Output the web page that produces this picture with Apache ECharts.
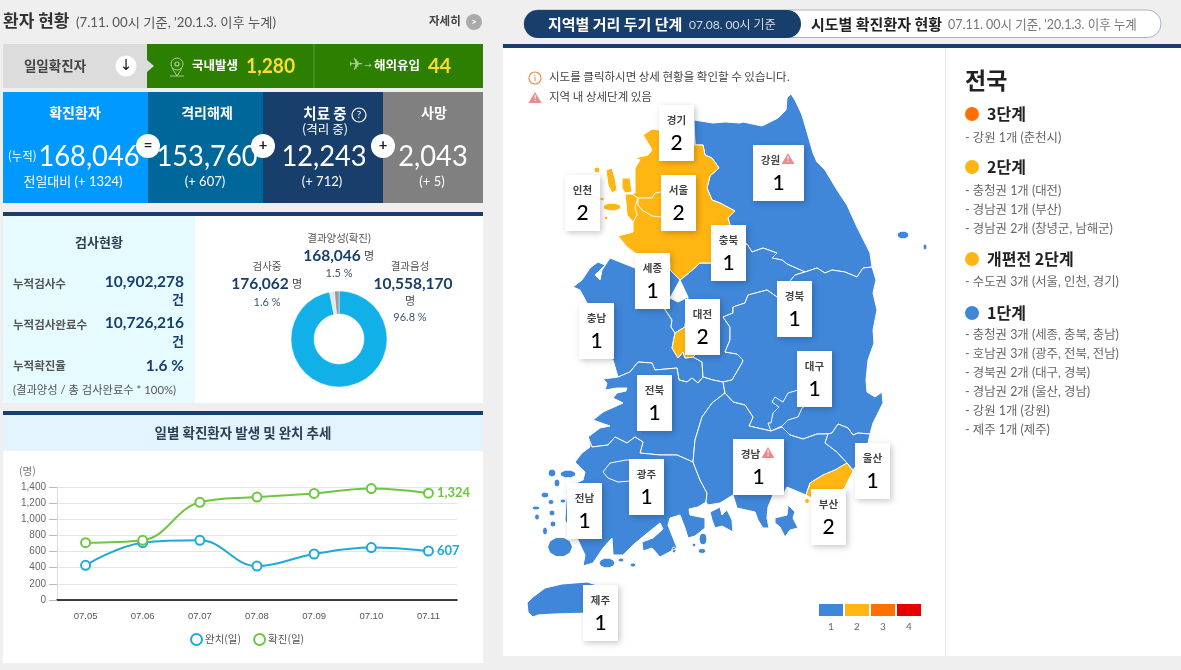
<!DOCTYPE html>
<html lang="ko">
<head>
<meta charset="utf-8">
<title>코로나바이러스감염증 현황</title>
<style>html,body{margin:0;padding:0;background:#efefef}#chart{width:1181px;height:670px}</style>
<script src="https://cdn.jsdelivr.net/npm/echarts@6/dist/echarts.min.js"></script>
</head>
<body>
<div id="chart"></div>
<script>
// 일별 추세
const trendDays = ['07.05', '07.06', '07.07', '07.08', '07.09', '07.10', '07.11'];
const recovered = [430, 710, 740, 420, 570, 650, 607];
const confirmed = [710, 740, 1210, 1275, 1320, 1380, 1324];

// 검사현황
const testLabels = ['결과음성', '검사중', '결과양성(확진)'];
const testValues = [10558170, 176062, 168046];
const testShares = ['96.8 %', '1.6 %', '1.5 %'];

// 시도별 거리 두기 단계
const regionNames = ['강원', '충남', '세종', '충북', '대전', '전북', '전남', '광주', '경북', '대구', '경남', '울산', '부산', '경기', '인천', '서울', '제주'];
const regionLevels = [1, 1, 1, 1, 2, 1, 1, 1, 1, 1, 1, 1, 2, 2, 2, 2, 1];
const levelTicks = [1, 2, 3, 4];
const levelColors = ['#4087d9', '#ffb612', '#ff7000', '#e60000'];

// 지도 외곽선 (map units)
const outlines = {
  강원: [[[694,120],[713,123],[725,122],[740,123],[743,122],[762,126],[778,118],[786,110],[787,98],[791,94],[795,100],[802,115],[807,132],[813,153],[817,162],[825,170],[837,190],[847,205],[857,227],[870,253],[872,267],[863,268],[857,277],[845,272],[832,270],[825,273],[817,268],[805,272],[787,264],[782,260],[772,258],[777,253],[763,248],[752,252],[747,244],[736,240],[730,225],[728,218],[735,211],[720,203],[712,200],[707,188],[710,176],[719,168],[712,158],[705,155],[703,145],[695,145]]],
  충남: [[[573,287],[582,280],[590,268],[598,262],[605,265],[595,275],[600,280],[602,270],[610,258],[635,268],[670,270],[680,280],[670,298],[664,308],[672,320],[671,327],[675,333],[672,348],[678,358],[683,352],[685,358],[693,357],[702,362],[703,377],[698,383],[692,378],[687,382],[679,380],[677,368],[655,370],[652,363],[638,362],[630,372],[618,377],[613,360],[600,355],[590,330],[587,303],[580,290]]],
  세종: [[[664,308],[670,298],[678,302],[688,297],[685,327],[675,333],[671,327],[672,320]]],
  충북: [[[680,280],[690,272],[700,263],[711,263],[730,255],[740,245],[747,244],[752,252],[763,248],[777,253],[772,258],[782,260],[787,264],[805,272],[795,275],[790,281],[777,297],[767,290],[748,295],[745,303],[733,307],[733,313],[723,317],[730,327],[730,340],[725,352],[737,354],[743,360],[742,363],[732,380],[723,382],[713,380],[703,377],[702,362],[693,357],[700,350],[700,330],[685,327],[688,297]]],
  대전: [[[685,327],[675,333],[672,348],[678,358],[683,352],[685,358],[693,357],[700,350],[700,330]]],
  전북: [[[618,377],[630,372],[638,362],[652,363],[655,370],[677,368],[679,380],[687,382],[692,378],[698,383],[703,377],[713,380],[723,382],[725,393],[712,403],[702,417],[695,440],[693,462],[677,455],[660,455],[640,453],[643,442],[635,437],[627,443],[615,437],[608,445],[592,447],[588,437],[600,428],[610,426],[593,420],[603,412],[623,403],[613,398],[617,393],[626,391],[627,388],[617,388],[605,390],[607,383],[603,379]]],
  전남: [[[588,437],[592,447],[608,445],[615,437],[627,443],[635,437],[643,442],[640,453],[660,455],[677,455],[693,462],[700,480],[707,493],[706,502],[698,507],[689,509],[690,515],[705,518],[705,528],[695,536],[688,538],[685,528],[680,515],[670,518],[668,525],[677,548],[660,557],[652,548],[643,551],[642,542],[653,538],[663,529],[660,523],[645,535],[633,545],[623,555],[613,555],[612,538],[603,548],[593,563],[583,566],[585,555],[578,540],[568,527],[565,520],[567,487],[583,480],[585,472],[575,462],[582,453],[590,447]]],
  광주: [[[603,472],[610,463],[626,460],[650,460],[655,480],[630,481],[618,482],[608,478]]],
  경북: [[[872,267],[876,280],[873,293],[877,310],[873,330],[874,343],[868,360],[866,380],[867,392],[875,397],[882,392],[883,403],[873,423],[870,434],[858,433],[853,435],[848,428],[838,424],[832,433],[828,434],[817,434],[803,439],[790,435],[782,427],[771,431],[749,426],[753,417],[745,405],[733,402],[725,393],[723,382],[732,380],[742,363],[743,360],[737,354],[725,352],[730,340],[730,327],[723,317],[733,313],[733,307],[745,303],[748,295],[767,290],[777,297],[790,281],[795,275],[805,272],[817,268],[825,273],[832,270],[845,272],[857,277],[863,268]]],
  대구: [[[798,390],[788,393],[783,402],[775,397],[772,402],[779,407],[773,413],[771,423],[768,423],[771,431],[782,426],[788,420],[798,417],[802,408],[815,400]]],
  경남: [[[725,393],[733,402],[745,405],[753,417],[749,426],[771,431],[782,427],[790,435],[803,439],[817,434],[828,434],[825,443],[837,452],[847,463],[835,470],[823,475],[810,483],[806,495],[787,487],[784,493],[773,495],[768,507],[767,518],[769,528],[763,528],[758,520],[755,512],[737,508],[733,495],[720,503],[708,505],[706,502],[707,493],[700,480],[693,462],[695,440],[702,417],[712,403]],
       [[775,518],[787,515],[788,505],[795,512],[793,518],[798,528],[790,530],[785,537],[780,527],[775,523]],
       [[710,512],[720,507],[722,515],[727,510],[732,520],[733,532],[722,526],[715,528],[712,520]]],
  울산: [[[870,434],[868,443],[860,460],[853,470],[847,463],[837,452],[825,443],[828,434],[832,433],[838,424],[848,428],[853,435],[858,433]]],
  부산: [[[847,463],[853,471],[845,487],[835,497],[815,500],[806,495],[810,483],[823,475],[835,470]]],
  경기: [[[643,135],[652,129],[659,130],[694,130],[695,145],[703,145],[705,155],[712,158],[719,168],[710,176],[707,188],[712,200],[720,203],[735,211],[728,218],[730,225],[736,240],[747,244],[740,245],[730,255],[711,263],[700,263],[690,272],[680,280],[670,270],[670,263],[635,253],[627,247],[618,236],[633,232],[633,223],[635,213],[626,203],[625,194],[635,193],[635,177],[635,168],[640,160],[635,158],[648,155],[652,150],[648,143]]],
  인천: [[[625,194],[632,194],[638,198],[635,207],[637,215],[633,222],[627,215],[626,203]],
       [[606,170],[612,168],[615,178],[617,190],[612,193],[608,185]],
       [[622,178],[630,178],[632,192],[625,193],[622,188]]],
  서울: [[[638,198],[652,198],[655,193],[661,192],[680,192],[680,222],[661,217],[652,216],[642,210],[638,205]]],
  제주: [[[527,603],[533,597],[545,588],[562,584],[587,582],[597,585],[590,613],[553,614],[538,615],[533,617],[528,612]]]
};
// 작은 섬들: [지역, 중심x, 중심y, 반경x, 반경y]
const islets = [
  ['전남',552,473,4,4],['전남',568,474,8,4],['전남',557,483,3,4],['전남',545,495,4,3],['전남',551,502,3,2.5],
  ['전남',536,508,4,2],['전남',552,513,3,3],['전남',537,517,2.5,3],['전남',553,524,3,3],['전남',545,531,2.5,4],
  ['전남',560,547,12.5,10],['전남',607,563,8,5],['전남',621,560,3,2],['전남',633,565,3,2],['전남',563,501,3,2],
  ['전남',703,539,4,6],['전남',694,545,2,2],['전남',702,551,4,2.5],['전남',674,550,2,3],
  ['경북',903,235,6,4],['경북',925,247,2,3],
  ['인천',597,170,3,3],['인천',612,207,9,4],['인천',602,199,2.5,1.5],['인천',606,218,2,2],
  ['부산',807,501,2.5,2.5]
];

// 지도 위 카드
const cardNames = ['경기', '서울', '인천', '충북', '강원', '세종', '경북', '대전', '충남', '대구', '전북', '경남', '울산', '부산', '광주', '전남', '제주'];
const cardAnchors = [[676.5,133],[678.5,203],[582.5,203],[728.5,253],[778.5,173],[652.5,281],[794.5,309],[702.5,327],[596.5,331],[814.5,379],[654.5,403],[758.5,467],[872.5,471],[828.5,517],[646.5,487],[584.5,511],[600.5,613]];
const wideCards = ['강원', '경남'];

const FONT = 'Lato, "Noto Sans CJK KR", sans-serif';
const KR = '"Noto Sans CJK KR", sans-serif';
const NAVY = '#183f6b';

function ringOf(c) {
  const pts = [];
  for (let i = 0; i < 10; i++) {
    const a = i / 10 * Math.PI * 2;
    pts.push([c[1] + c[3] * Math.cos(a), c[2] + c[4] * Math.sin(a)]);
  }
  return pts;
}

const koreaGeo = {
  type: 'FeatureCollection',
  features: regionNames.map(name => {
    const rings = outlines[name].concat(islets.filter(c => c[0] === name).map(ringOf));
    return {
      type: 'Feature',
      properties: { name },
      geometry: { type: 'MultiPolygon', coordinates: rings.map(r => [r.concat([r[0]])]) }
    };
  })
};
echarts.registerMap('korea', koreaGeo);

const allPts = koreaGeo.features.flatMap(f => f.geometry.coordinates.flatMap(p => p[0]));
const minX = Math.min(...allPts.map(p => p[0])), maxX = Math.max(...allPts.map(p => p[0]));
const minY = Math.min(...allPts.map(p => p[1])), maxY = Math.max(...allPts.map(p => p[1]));

function box(x, y, w, h, fill, extra) {
  return Object.assign({ type: 'rect', z: 0, silent: true, shape: { x, y, width: w, height: h, r: (extra && extra.r) || 0 }, style: { fill, stroke: extra && extra.stroke, lineWidth: extra && extra.stroke ? 1 : 0 } }, extra && extra.z ? { z: extra.z } : {});
}
function txt(text, x, y, font, fill, align, opts) {
  opts = opts || {};
  return { type: 'text', x, y, z: opts.z || 10, scaleX: opts.sx || 1, silent: true,
    style: { text, font, fill, align: align || 'left', verticalAlign: 'middle', textAlign: align || 'left', textVerticalAlign: 'middle' } };
}
function dot(x, y, r, fill, z, stroke) {
  return { type: 'circle', z: z || 5, silent: true, shape: { cx: x, cy: y, r }, style: { fill, stroke, lineWidth: stroke ? 1.2 : 0 } };
}
function warnMark(x, y) {
  return [
    { type: 'polygon', z: 30, silent: true, shape: { points: [[x, y - 6], [x + 6.5, y + 5], [x - 6.5, y + 5]] }, style: { fill: '#ec8b8f' } },
    txt('!', x, y + 0.5, 'bold 8px ' + FONT, '#fff', 'center', { z: 31 })
  ];
}

const g = [];
// 왼쪽 패널
g.push(txt('환자 현황', 3, 21, 'bold 17px ' + KR, '#333'));
g.push(txt("(7.11. 00시 기준, '20.1.3. 이후 누계)", 76, 23, '13px ' + FONT, '#555', 'left', { sx: 1.02 }));
g.push(txt('자세히', 429, 21, 'bold 11.5px ' + KR, '#444'));
g.push(dot(474, 22, 8, '#aaaaaa'));
g.push(txt('>', 474, 22, 'bold 9px ' + FONT, '#fff', 'center'));

g.push(box(3, 44, 144, 44, '#dcdcdc'));
g.push(box(147, 44, 336, 44, '#2c7f00'));
g.push({ type: 'polygon', z: 2, silent: true, shape: { points: [[147, 60], [154, 66], [147, 72]] }, style: { fill: '#dcdcdc' } });
g.push({ type: 'line', z: 2, silent: true, shape: { x1: 314, y1: 44, x2: 314, y2: 88 }, style: { stroke: '#5d9c3c', lineWidth: 1 } });
g.push(txt('일일확진자', 55, 66, 'bold 13.5px ' + KR, '#444', 'center'));
g.push(dot(126, 66, 10.5, '#fff'));
g.push(txt('↓', 126, 66, '15px "DejaVu Sans"', '#111', 'center'));
g.push({ type: 'circle', z: 6, silent: true, shape: { cx: 177, cy: 64, r: 6 }, style: { fill: 'none', stroke: '#a9d08f', lineWidth: 1 } });
g.push(dot(177, 64, 2, 'none', 6, '#a9d08f'));
g.push({ type: 'polyline', z: 6, silent: true, shape: { points: [[172, 68], [177, 76], [182, 68]] }, style: { fill: 'none', stroke: '#a9d08f', lineWidth: 1 } });
g.push({ type: 'line', z: 6, silent: true, shape: { x1: 170, y1: 76, x2: 184, y2: 76 }, style: { stroke: '#a9d08f', lineWidth: 1 } });
g.push(txt('국내발생', 192, 65, 'bold 12.5px ' + KR, '#fff'));
g.push(txt('1,280', 246, 67, 'bold 20px ' + FONT, '#ffdb2e', 'left', { sx: 0.96 }));
g.push(txt('✈', 356, 66, '17px "DejaVu Sans"', '#a9d08f', 'center'));
g.push(txt('→', 368, 66, '9px "DejaVu Sans"', '#a9d08f', 'center'));
g.push(txt('해외유입', 374, 65, 'bold 12.5px ' + KR, '#fff'));
g.push(txt('44', 428, 67, 'bold 20px ' + FONT, '#ffdb2e'));

g.push(box(3, 92, 145, 111, '#0099ff'));
g.push(box(148, 92, 115, 111, '#00679a'));
g.push(box(263, 92, 120, 111, NAVY));
g.push(box(383, 92, 100, 111, '#808080'));
[['확진환자', 75], ['격리해제', 207], ['사망', 434]].forEach(h => g.push(txt(h[0], h[1], 113, 'bold 14px ' + KR, '#fff', 'center')));
g.push(txt('치료 중', 325, 113, 'bold 14.5px ' + KR, '#fff', 'center'));
g.push(dot(359, 115, 7, 'none', 6, '#fff'));
g.push(txt('?', 359, 115, '10px ' + FONT, '#fff', 'center'));
g.push(txt('(격리 중)', 325, 129, '12.5px ' + KR, '#fff', 'center'));
g.push(txt('(누적)', 8, 156, '12px ' + KR, '#fff', 'left', { sx: 0.95 }));
[['168,046', 89], ['153,760', 207], ['12,243', 324], ['2,043', 433]].forEach(n =>
  g.push(txt(n[0], n[1], 157, '29px ' + FONT, '#fff', 'center', { sx: 0.94 })));
[['전일대비 (+ 1324)', 73], ['(+ 607)', 205], ['(+ 712)', 322], ['(+ 5)', 432]].forEach(n =>
  g.push(txt(n[0], n[1], 182, '13px ' + FONT, '#fff', 'center')));
[['=', 148], ['+', 263], ['+', 383]].forEach(n => {
  g.push(dot(n[1], 146, 12, '#fff', 8));
  g.push(txt(n[0], n[1], 145, 'bold 15px ' + FONT, '#222', 'center', { z: 9 }));
});

// 검사현황
g.push(box(3, 212, 480, 4, NAVY));
g.push(box(3, 216, 192, 187, '#e6fbff'));
g.push(box(195, 216, 288, 187, '#ffffff'));
g.push(txt('검사현황', 99, 242, 'bold 13px ' + KR, '#2b3f55', 'center'));
[['누적검사수', 284], ['누적검사완료수', 325], ['누적확진율', 366]].forEach(r =>
  g.push(txt(r[0], 13, r[1], 'bold 11.5px ' + KR, '#555')));
const NUM = 'bold 15.5px ' + FONT;
g.push(txt('10,902,278', 184, 282, NUM, NAVY, 'right'));
g.push(txt('건', 184, 299, 'bold 13px ' + KR, NAVY, 'right'));
g.push(txt('10,726,216', 184, 323, NUM, NAVY, 'right'));
g.push(txt('건', 184, 341, 'bold 13px ' + KR, NAVY, 'right'));
g.push(txt('1.6 %', 184, 366, NUM, NAVY, 'right'));
g.push(txt('(결과양성 / 총 검사완료수 * 100%)', 13, 390, '11.3px ' + FONT, '#555'));

const fmt = v => v.toLocaleString('en-US');
g.push(txt(testLabels[2], 339, 239, '10.5px ' + FONT, '#555', 'center'));
g.push(txt(fmt(testValues[2]), 332, 256, NUM, NAVY, 'center'));
g.push(txt('명', 369, 256, '11px ' + KR, '#444', 'center'));
g.push(txt(testShares[2], 339, 273, '11px ' + FONT, '#3b5572', 'center'));
g.push(txt(testLabels[1], 267, 267, '10.5px ' + FONT, '#555', 'center'));
g.push(txt(fmt(testValues[1]), 260, 284, NUM, NAVY, 'center'));
g.push(txt('명', 297, 284, '11px ' + KR, '#444', 'center'));
g.push(txt(testShares[1], 267, 302, '11px ' + FONT, '#3b5572', 'center'));
g.push(txt(testLabels[0], 410, 267, '10.5px ' + FONT, '#555', 'center'));
g.push(txt(fmt(testValues[0]), 413, 284, NUM, NAVY, 'center'));
g.push(txt('명', 410, 301, '11px ' + KR, '#444', 'center'));
g.push(txt(testShares[0], 410, 317, '11px ' + FONT, '#3b5572', 'center'));

// 추세 패널
g.push(box(3, 411, 480, 4, NAVY));
g.push(box(3, 415, 480, 36, '#e3f4ff'));
g.push(box(3, 451, 480, 212, '#ffffff'));
g.push(txt('일별 확진환자 발생 및 완치 추세', 243, 433, 'bold 13.5px ' + KR, '#2b3f55', 'center'));
g.push(txt('(명)', 19, 471, '10.5px ' + KR, '#777'));

// 오른쪽 패널
g.push(box(503, 48, 678, 608, '#ffffff'));
g.push(box(503, 44, 678, 4, NAVY));
g.push(box(945, 48, 1, 608, '#e8e8e8'));
g.push(box(524, 10, 637, 27.5, '#ffffff', { r: 13.5, stroke: '#a9b3c0' }));
g.push(box(524, 10, 277, 28, NAVY, { r: 14 }));
g.push(txt('지역별 거리 두기 단계', 548, 24, 'bold 15px ' + KR, '#fff'));
g.push(txt('07.08. 00시 기준', 689, 25, '12px ' + FONT, '#d6dde6'));
g.push(txt('시도별 확진환자 현황', 811, 24, 'bold 15px ' + KR, '#222'));
g.push(txt("07.11. 00시 기준, '20.1.3. 이후 누계", 948, 25, '13px ' + FONT, '#777', 'left', { sx: 0.96 }));

g.push(dot(535, 78, 6, '#fff', 6, '#e8914a'));
g.push(txt('i', 535, 78, 'bold 8px ' + FONT, '#e8914a', 'center'));
g.push(txt('시도를 클릭하시면 상세 현황을 확인할 수 있습니다.', 549, 77, '11.5px ' + KR, '#444'));
warnMark(535, 98).forEach(e => g.push(e));
g.push(txt('지역 내 상세단계 있음', 549, 97, '11.5px ' + KR, '#444'));
warnMark(788, 159).forEach(e => g.push(e));
warnMark(768, 453).forEach(e => g.push(e));

levelTicks.forEach((lv, i) => {
  g.push(box(819 + i * 26, 604, 24, 12, levelColors[i]));
  g.push(txt(String(lv), 831 + i * 26, 627, '10px ' + FONT, '#666', 'center'));
});

// 전국 단계 요약
g.push(txt('전국', 965, 80, 'bold 23px ' + KR, '#222'));
[['3단계', 114, '#ff7000'], ['2단계', 167, '#ffb612'], ['개편전 2단계', 259, '#ffb612'], ['1단계', 313, '#4087d9']].forEach(s => {
  g.push(dot(972, s[1], 7, s[2]));
  g.push(txt(s[0], 987, s[1], 'bold 16px ' + KR, '#222'));
});
[['- 강원 1개 (춘천시)', 138], ['- 충청권 1개 (대전)', 191], ['- 경남권 1개 (부산)', 210], ['- 경남권 2개 (창녕군, 남해군)', 229],
 ['- 수도권 3개 (서울, 인천, 경기)', 282], ['- 충청권 3개 (세종, 충북, 충남)', 335], ['- 호남권 3개 (광주, 전북, 전남)', 354],
 ['- 경북권 2개 (대구, 경북)', 373], ['- 경남권 2개 (울산, 경남)', 392], ['- 강원 1개 (강원)', 411], ['- 제주 1개 (제주)', 430]
].forEach(r => g.push(txt(r[0], 965, r[1], '12.4px ' + FONT, '#666')));

const chart = echarts.init(document.getElementById('chart'));
const endLabel = color => ({ show: true, position: 'right', distance: 3, color, fontFamily: 'Lato', fontWeight: 'bold', fontSize: 13, formatter: p => fmt(p.value) });
const withEndLabel = (vals, color) => vals.map((v, i) => i === vals.length - 1 ? { value: v, label: endLabel(color) } : v);
const BLUE = '#1eaad6', GREEN = '#6cc63f';

chart.setOption({
  backgroundColor: '#efefef',
  animation: false,
  graphic: { elements: g },
  grid: { left: 57, right: 724, top: 487, height: 113 },
  legend: {
    top: 628, left: 185, itemWidth: 11, itemHeight: 11, itemGap: 12, selectedMode: false,
    textStyle: { color: '#555', fontSize: 10.5, fontFamily: KR, padding: [0, 0, 0, -2] },
    data: [
      { name: '완치(일)', icon: 'circle', itemStyle: { color: '#fff', borderColor: BLUE, borderWidth: 2 } },
      { name: '확진(일)', icon: 'circle', itemStyle: { color: '#fff', borderColor: GREEN, borderWidth: 2 } }
    ]
  },
  xAxis: {
    type: 'category', data: trendDays,
    axisLine: { lineStyle: { color: '#000', width: 1.5 } }, axisTick: { show: false },
    axisLabel: { color: '#555', fontSize: 9.5, fontFamily: 'Liberation Sans', margin: 11 }
  },
  yAxis: {
    type: 'value', min: 0, max: 1400, interval: 200,
    axisLine: { show: true, lineStyle: { color: '#ddd' } },
    axisTick: { show: true, length: 8, lineStyle: { color: '#bbb' } },
    axisLabel: { color: '#666', fontSize: 10, fontFamily: 'Liberation Sans', margin: 11, formatter: v => fmt(v) },
    splitLine: { lineStyle: { color: '#e4e4e4' } }
  },
  geo: {
    map: 'korea', silent: true, roam: false,
    projection: { project: p => [p[0], p[1]], unproject: p => [p[0], p[1]] },
    left: minX, top: minY, width: maxX - minX, height: maxY - minY,
    label: { show: false },
    itemStyle: { areaColor: levelColors[0], borderColor: '#fff', borderWidth: 1 },
    regions: regionNames.map((name, i) => ({ name, itemStyle: { areaColor: levelColors[regionLevels[i] - 1] } }))
  },
  series: [
    {
      name: '완치(일)', type: 'line', smooth: 0.4, data: withEndLabel(recovered, BLUE), silent: true,
      symbol: 'circle', symbolSize: 9, showAllSymbol: true,
      lineStyle: { color: BLUE, width: 2 }, itemStyle: { color: '#fff', borderColor: BLUE, borderWidth: 2 }
    },
    {
      name: '확진(일)', type: 'line', smooth: 0.4, data: withEndLabel(confirmed, GREEN), silent: true,
      symbol: 'circle', symbolSize: 9, showAllSymbol: true,
      lineStyle: { color: GREEN, width: 2 }, itemStyle: { color: '#fff', borderColor: GREEN, borderWidth: 2 }
    },
    {
      type: 'pie', center: [339, 339], radius: [25, 48], startAngle: 90, silent: true,
      label: { show: false }, labelLine: { show: false },
      itemStyle: { borderColor: '#fff', borderWidth: 0.5 },
      data: testValues.map((value, i) => ({ value, name: testLabels[i], itemStyle: { color: ['#12b0e8', '#e2e6ea', '#9a9a9a'][i] } }))
    },
    {
      type: 'scatter', coordinateSystem: 'geo', geoIndex: 0, silent: true, z: 3,
      symbol: 'rect',
      data: cardNames.map((name, i) => ({
        name,
        value: cardAnchors[i].concat(regionLevels[regionNames.indexOf(name)]),
        symbolSize: wideCards.includes(name) ? [51, 56] : [35, 56]
      })),
      itemStyle: { color: '#fff', shadowBlur: 6, shadowColor: 'rgba(0,0,0,0.22)', shadowOffsetX: 1.5, shadowOffsetY: 1.5, opacity: 1 },
      label: {
        show: true, position: 'inside',
        formatter: p => (wideCards.includes(p.name) ? `{t|${p.name}}{s|}` : `{t|${p.name}}`) + `\n{n|${p.value[2]}}`,
        rich: {
          t: { fontFamily: KR, fontSize: 10.5, fontWeight: 'bold', color: '#444', lineHeight: 20, align: 'center' },
          s: { width: 16, lineHeight: 20 },
          n: { fontFamily: 'Lato', fontSize: 21, fontWeight: 500, color: '#000', lineHeight: 26, align: 'center' }
        }
      }
    }
  ]
});
</script>
</body>
</html>
